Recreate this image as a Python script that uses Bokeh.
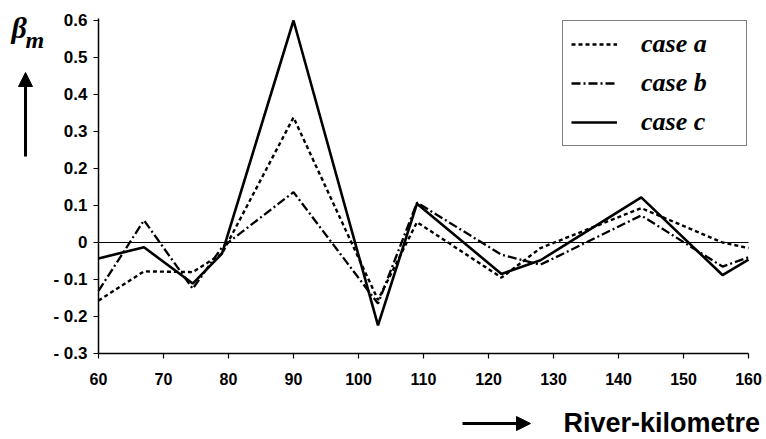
from bokeh.plotting import figure
from bokeh.models import (Range1d, Label, Arrow, NormalHead, Legend,
                          LegendItem, FixedTicker, LinearAxis)
from bokeh.embed import file_html
from bokeh.resources import INLINE

# River stations (km) and the beta_m coefficient for the three cases
km = [60, 67, 74.5, 79, 90, 103, 109, 122, 128, 143.5, 156, 160]
case_a = [-0.157, -0.078, -0.080, -0.030, 0.338, -0.155, 0.055, -0.095, -0.015, 0.093, 0.000, -0.015]
case_b = [-0.131, 0.060, -0.125, -0.013, 0.136, -0.165, 0.108, -0.033, -0.060, 0.073, -0.065, -0.040]
case_c = [-0.043, -0.013, -0.111, -0.030, 0.600, -0.224, 0.105, -0.085, -0.048, 0.122, -0.088, -0.046]

x_ticks = [60, 70, 80, 90, 100, 110, 120, 130, 140, 150, 160]
y_ticks = [-0.3, -0.2, -0.1, 0, 0.1, 0.2, 0.3, 0.4, 0.5, 0.6]
y_tick_labels = ["- 0.3", "- 0.2", "- 0.1", "0", "0.1", "0.2", "0.3", "0.4", "0.5", "0.6"]

W, H = 766, 439
# pixel box of the data area inside the canvas
PL, PR, PT, PB = 98, 748, 20, 353
X0, X1 = x_ticks[0], x_ticks[-1]
Y0, Y1 = y_ticks[0], y_ticks[-1]
sx = (PR - PL) / (X1 - X0)
sy = (PB - PT) / (Y1 - Y0)

# the frame fills the whole canvas; the ranges are widened so that the
# data area lands on the pixel box above and the labels can sit around it
p = figure(width=W, height=H, output_backend="svg", toolbar_location=None,
           x_range=Range1d(X0 - PL / sx, X1 + (W - PR) / sx),
           y_range=Range1d(Y0 - (H - PB) / sy, Y1 + PT / sy),
           x_axis_type=None, y_axis_type=None,
           min_border=0)
p.outline_line_color = None
p.background_fill_color = "white"
p.border_fill_color = "white"


def dx(px):
    return X0 + (px - PL) / sx


def dy(py):
    return Y0 + (PB - py) / sy


xaxis = LinearAxis(fixed_location=Y0, bounds=(X0, X1),
                   ticker=FixedTicker(ticks=x_ticks))
yaxis = LinearAxis(fixed_location=X0, bounds=(Y0, Y1 + 0.005),
                   ticker=FixedTicker(ticks=y_ticks))
yaxis.major_label_overrides = {t: s for t, s in zip(y_ticks, y_tick_labels)}
for ax in (xaxis, yaxis):
    ax.axis_line_width = 1.5
    ax.axis_line_color = "black"
    ax.major_tick_line_width = 1.2
    ax.major_tick_out = 5
    ax.major_tick_in = 0
    ax.minor_tick_line_color = None
    ax.major_label_text_font = "Liberation Sans"
    ax.major_label_text_font_style = "bold"
    ax.major_label_text_color = "black"
xaxis.major_label_text_font_size = "16px"
yaxis.major_label_text_font_size = "17px"
xaxis.major_label_standoff = 14
yaxis.major_label_standoff = 6
p.add_layout(xaxis, "below")
p.add_layout(yaxis, "left")

# zero reference line across the km span
p.line([X0, X1], [0, 0], line_color="black", line_width=1)

ra = p.line(km, case_a, line_color="black", line_width=2.4, line_dash="4 3")
rb = p.line(km, case_b, line_color="black", line_width=2.3, line_dash="9 3 2 3")
rc = p.line(km, case_c, line_color="black", line_width=2.6)

legend = Legend(items=[LegendItem(label="case a", renderers=[ra]),
                       LegendItem(label="case b", renderers=[rb]),
                       LegendItem(label="case c", renderers=[rc])],
                location=(562, H - 146), orientation="vertical")
legend.label_text_font = "Liberation Serif"
legend.label_text_font_style = "bold italic"
legend.label_text_font_size = "26px"
legend.label_text_color = "black"
legend.glyph_width = 46
legend.glyph_height = 24
legend.label_height = 24
legend.label_width = 97
legend.label_standoff = 24
legend.spacing = 9
legend.padding = 8
legend.margin = 0
legend.border_line_color = "black"
legend.border_line_width = 1.3
legend.background_fill_color = "white"
legend.background_fill_alpha = 1
p.add_layout(legend)

# vertical quantity label: beta with subscript m, plus an upward arrow
p.add_layout(Label(x=dx(11), y=dy(27), text="β", text_font="Liberation Serif",
                   text_font_style="bold italic", text_font_size="30px",
                   text_baseline="middle", text_color="black"))
p.add_layout(Label(x=dx(25), y=dy(39), text="m", text_font="Liberation Serif",
                   text_font_style="bold italic", text_font_size="24px",
                   text_baseline="middle", text_color="black"))
p.add_layout(Arrow(x_start=dx(25), y_start=dy(156), x_end=dx(25), y_end=dy(72),
                   line_width=3, line_color="black",
                   end=NormalHead(size=14, fill_color="black", line_color="black")))

# horizontal quantity label with a rightward arrow
p.add_layout(Arrow(x_start=dx(462), y_start=dy(423), x_end=dx(530), y_end=dy(423),
                   line_width=3, line_color="black",
                   end=NormalHead(size=14, fill_color="black", line_color="black")))
p.add_layout(Label(x=dx(563), y=dy(422), text="River-kilometre",
                   text_font="Liberation Sans", text_font_style="bold",
                   text_font_size="27px", text_baseline="middle",
                   text_color="black"))

open("out.html", "w").write(file_html(p, INLINE))
